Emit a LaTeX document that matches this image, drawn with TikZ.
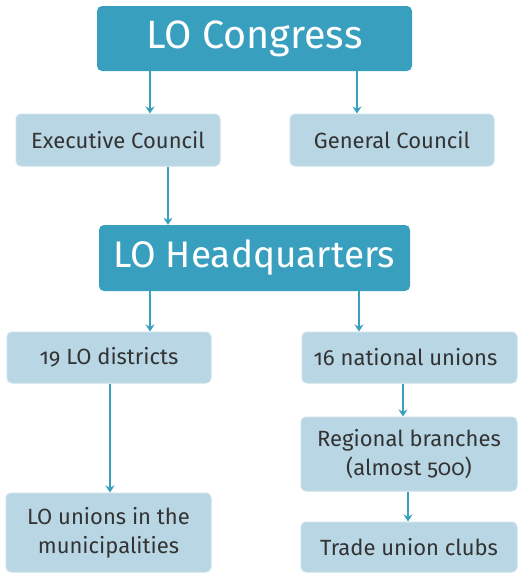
\documentclass[tikz,border=0pt]{standalone}
\usepackage{fontspec}
\setmainfont[Numbers=OldStyle]{Fira Sans}
\usetikzlibrary{arrows.meta}
\definecolor{teal1}{HTML}{38A0BE}
\definecolor{pale}{HTML}{B8D6E3}
\definecolor{paleedge}{HTML}{C9E0EA}
\definecolor{txt}{HTML}{333333}
\tikzset{
  x=1pt, y=-1pt,
  bigbox/.style={fill=teal1, draw=none, rounded corners=5pt, inner sep=0pt, text=white, font=\fontsize{39.5}{44}\selectfont},
  smallbox/.style={fill=pale, draw=paleedge, line width=1pt, rounded corners=5pt, inner sep=0pt, text=txt, align=center, font=\fontsize{22}{29}\selectfont},
  arr/.style={draw=teal1, line width=1.4pt, -{Stealth[length=7pt,width=9pt]}}
}
\begin{document}
\begin{tikzpicture}
\useasboundingbox (0,0) rectangle (519,573);
\node[bigbox, minimum width=315pt, minimum height=65pt] (congress) at (254.5,38.5) {LO Congress};
\node[smallbox, minimum width=204pt, minimum height=52pt] (exec) at (118,140) {Executive Council};
\node[smallbox, minimum width=204pt, minimum height=52pt] (gen) at (392,140) {General Council};
\node[bigbox, minimum width=311pt, minimum height=66pt, font=\fontsize{37}{42}\selectfont] (hq) at (254.5,258) {LO Headquarters};
\node[smallbox, minimum width=204pt, minimum height=51pt] (dist) at (109,357.5) {19 LO districts};
\node[smallbox, minimum width=215pt, minimum height=51pt] (nat) at (409.5,357.5) {16 national unions\hspace*{8pt}};
\node[smallbox, minimum width=216pt, minimum height=74pt] (reg) at (409,454) {Regional branches\\(almost 500)};
\node[smallbox, minimum width=205pt, minimum height=79pt] (muni) at (108.5,532.5) {LO unions in the\\municipalities};
\node[smallbox, minimum width=216pt, minimum height=50pt] (club) at (409,547) {Trade union clubs};
\draw[arr] (congress.south -| 150,0) -- (exec.north -| 150,0);
\draw[arr] (congress.south -| 357,0) -- (gen.north -| 357,0);
\draw[arr] (exec.south -| 168,0) -- (hq.north -| 168,0);
\draw[arr] (hq.south -| 150,0) -- (dist.north -| 150,0);
\draw[arr] (hq.south -| 359,0) -- (nat.north -| 359,0);
\draw[arr] (dist.south -| 110,0) -- (muni.north -| 110,0);
\draw[arr] (nat.south -| 403,0) -- (reg.north -| 403,0);
\draw[arr] (reg.south -| 408,0) -- (club.north -| 408,0);
\end{tikzpicture}
\end{document}
